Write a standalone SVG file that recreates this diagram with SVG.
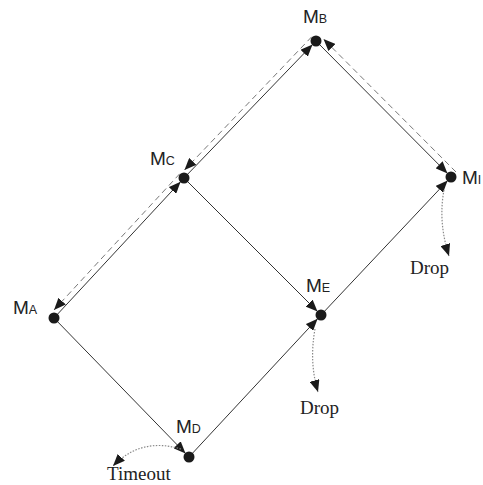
<svg xmlns="http://www.w3.org/2000/svg" width="483" height="485" viewBox="0 0 483 485">
<style>
.lbl{font-family:"Liberation Sans",Arial,sans-serif;font-size:19px;fill:#222}
.sub{font-size:12.5px}
.drop{font-family:"Liberation Serif","Times New Roman",serif;font-size:19px;fill:#222}
.solid{stroke:#333;stroke-width:1;fill:none}
.dash{stroke:#777;stroke-width:1;stroke-dasharray:6,4;fill:none}
.dot{stroke:#888;stroke-width:1.2;stroke-dasharray:1.5,1.5;fill:none}
.node{fill:#1a1a1a}
</style>
<defs>
<marker id="ah" markerUnits="userSpaceOnUse" markerWidth="12" markerHeight="10" refX="12" refY="5" orient="auto">
<path d="M0,0 L12,5 L0,10 z" fill="#1a1a1a"/>
</marker>
</defs>
<rect width="483" height="485" fill="#fff"/>
<g id="connectors">
<line class="solid" x1="54" y1="318" x2="180.6" y2="181.7" marker-end="url(#ah)"/>
<line class="solid" x1="184" y1="178" x2="312.5" y2="44.6" marker-end="url(#ah)"/>
<line class="solid" x1="54" y1="318" x2="185.5" y2="453.4" marker-end="url(#ah)"/>
<line class="solid" x1="189" y1="457" x2="317.6" y2="318.7" marker-end="url(#ah)"/>
<line class="solid" x1="184" y1="178" x2="317.5" y2="311.5" marker-end="url(#ah)"/>
<line class="solid" x1="321" y1="315" x2="447.6" y2="180.6" marker-end="url(#ah)"/>
<line class="solid" x1="316" y1="41" x2="447.5" y2="173.4" marker-end="url(#ah)"/>
<line class="dash" x1="456" y1="172" x2="323.5" y2="39" marker-end="url(#ah)"/>
<line class="dash" x1="311.7" y1="36.8" x2="184.5" y2="170" marker-end="url(#ah)"/>
<line class="dash" x1="179.7" y1="173.8" x2="54" y2="310" marker-end="url(#ah)"/>
<path class="dot" d="M444,190 Q438,222 449,256" marker-end="url(#ah)"/>
<path class="dot" d="M315,329 Q309,362 318,392" marker-end="url(#ah)"/>
<path class="dot" d="M181,449 Q141,437 113,466" marker-end="url(#ah)"/>
</g>
<g id="MB"><circle class="node" cx="316" cy="41" r="5.5"/><text class="lbl" x="303" y="23">M<tspan class="sub">B</tspan></text></g>
<g id="MC"><circle class="node" cx="184" cy="178" r="5.5"/><text class="lbl" x="150" y="165">M<tspan class="sub">C</tspan></text></g>
<g id="MA"><circle class="node" cx="54" cy="318" r="5.5"/><text class="lbl" x="13" y="314">M<tspan class="sub">A</tspan></text></g>
<g id="MI"><circle class="node" cx="451" cy="177" r="5.5"/><text class="lbl" x="462" y="184">M<tspan class="sub">I</tspan></text></g>
<g id="ME"><circle class="node" cx="321" cy="315" r="5.5"/><text class="lbl" x="306" y="292">M<tspan class="sub">E</tspan></text></g>
<g id="MD"><circle class="node" cx="189" cy="457" r="5.5"/><text class="lbl" x="176" y="433">M<tspan class="sub">D</tspan></text></g>
<g id="drop1"><text class="drop" x="410" y="274">Drop</text></g>
<g id="drop2"><text class="drop" x="300" y="414">Drop</text></g>
<g id="timeout"><text class="drop" x="107" y="480">Timeout</text></g>
</svg>
